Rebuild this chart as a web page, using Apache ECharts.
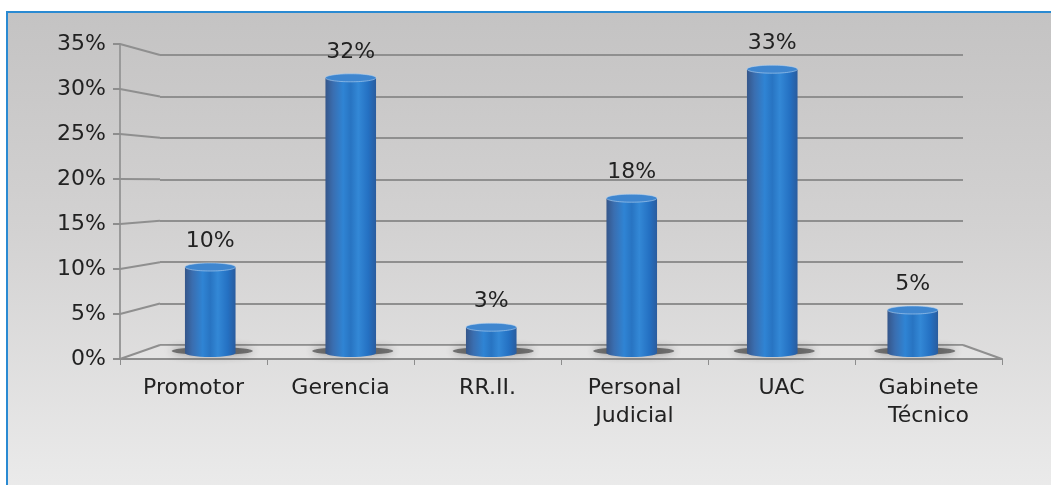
<!DOCTYPE html>
<html>
<head>
<meta charset="utf-8">
<script src="https://cdn.jsdelivr.net/npm/echarts@6/dist/echarts.min.js"></script>
<style>
  html, body { margin: 0; padding: 0; background: #fff; }
  .frame {
    position: absolute; left: 6px; top: 11px; width: 1060px; height: 490px;
    border-left: 2px solid #2a8ad2; border-top: 2px solid #2a8ad2;
    background: linear-gradient(to bottom, #c4c3c3 0%, #d3d2d2 45%, #ececec 100%);
  }
  #chart { position: absolute; left: 0; top: 0; width: 1051px; height: 485px; }
</style>
</head>
<body>
<div class="frame"></div>
<div id="chart"></div>
<script>
// datos
const categories = ['Promotor', 'Gerencia', 'RR.II.', 'Personal\nJudicial', 'UAC', 'Gabinete\nTécnico']
const values = [10, 32, 3, 18, 33, 5]

// perspectiva: frente / medio (barras) / fondo
const front = { left: 120, right: 49, top: 44, bottom: 126 }
const mid = { left: 140, right: 68, top: 52, bottom: 132 }
const back = { left: 160, right: 88, top: 55, bottom: 140 }
const W = 1051
const font = 'DejaVu Sans'

const chart = echarts.init(document.getElementById('chart'))

const yBase = { type: 'value', min: 0, max: 35, interval: 5 }

chart.setOption({
  backgroundColor: 'transparent',
  animation: false,
  grid: [front, mid, back],
  xAxis: [
    {
      type: 'category', gridIndex: 0, data: categories,
      axisLine: { show: true, lineStyle: { color: '#8d8d8d', width: 2 } },
      axisTick: { show: true, length: 6, lineStyle: { color: '#8d8d8d' } },
      axisLabel: { color: '#222', fontFamily: font, fontSize: 22, lineHeight: 28, margin: 15 }
    },
    { type: 'category', gridIndex: 1, data: categories, show: false },
    { type: 'category', gridIndex: 2, data: categories, show: false }
  ],
  yAxis: [
    Object.assign({}, yBase, {
      gridIndex: 0,
      axisLine: { show: true, lineStyle: { color: '#9a9a9a', width: 2 } },
      axisTick: { show: true, length: 7, lineStyle: { color: '#8d8d8d', width: 2 } },
      splitLine: { show: false },
      axisLabel: { color: '#222', fontFamily: font, fontSize: 22, margin: 14, formatter: '{value}%' }
    }),
    Object.assign({}, yBase, { gridIndex: 1, show: false, splitLine: { show: false } }),
    Object.assign({}, yBase, {
      gridIndex: 2,
      axisLine: { show: false }, axisTick: { show: false }, axisLabel: { show: false },
      splitLine: { show: true, lineStyle: { color: '#8f8f8f', width: 2 } }
    })
  ],
  series: [
    {
      type: 'custom',
      xAxisIndex: 1,
      yAxisIndex: 1,
      z: 10,
      data: values.map((v, i) => [i, v]),
      renderItem(params, api) {
        const top = api.coord([api.value(0), api.value(1)])
        const bottom = api.coord([api.value(0), 0])
        const w = api.size([1, 0])[0] * 0.36
        const cx = top[0]
        const x0 = cx - w / 2
        const ry = 4
        const body = new echarts.graphic.LinearGradient(0, 0, 1, 0, [
          { offset: 0, color: '#35568a' },
          { offset: 0.15, color: '#3a6eb0' },
          { offset: 0.35, color: '#2f84d4' },
          { offset: 0.5, color: '#2874c2' },
          { offset: 0.65, color: '#3388d6' },
          { offset: 0.85, color: '#2470c2' },
          { offset: 1, color: '#2a5c9e' }
        ])
        return {
          type: 'group',
          children: [
            {
              type: 'ellipse',
              shape: { cx: cx + 2, cy: bottom[1] - 2, rx: w * 0.8, ry: 4 },
              style: {
                fill: 'rgba(50,50,50,0.6)',
                shadowBlur: 9,
                shadowColor: 'rgba(40,40,40,0.8)'
              }
            },
            {
              type: 'rect',
              shape: { x: x0, y: top[1], width: w, height: bottom[1] - top[1] },
              style: { fill: body }
            },
            {
              type: 'ellipse',
              shape: { cx: cx, cy: bottom[1], rx: w / 2, ry: ry },
              style: { fill: body }
            },
            {
              type: 'ellipse',
              shape: { cx: cx, cy: top[1], rx: w / 2, ry: ry },
              style: { fill: '#3f86cf', stroke: 'rgba(180,210,240,0.6)', lineWidth: 1 }
            },
            {
              type: 'text',
              style: {
                text: api.value(1) + '%',
                x: cx, y: top[1] - 15,
                align: 'center', verticalAlign: 'bottom',
                fill: '#222', font: '22px "' + font + '"'
              }
            }
          ]
        }
      }
    }
  ]
})

// pared izquierda y suelo, a partir de las escalas de los ejes
const gray = { stroke: '#8f8f8f', lineWidth: 2 }
const elements = []
for (let v = 0; v <= 35; v += 5) {
  const yf = chart.convertToPixel({ yAxisIndex: 0 }, v)
  const yb = chart.convertToPixel({ yAxisIndex: 2 }, v)
  elements.push({ type: 'line', z: 1, shape: { x1: front.left, y1: yf, x2: back.left, y2: yb }, style: gray })
}
const yf0 = chart.convertToPixel({ yAxisIndex: 0 }, 0)
const yb0 = chart.convertToPixel({ yAxisIndex: 2 }, 0)
elements.push({
  type: 'polygon', z: 0,
  shape: { points: [[front.left, yf0], [W - front.right, yf0], [W - back.right, yb0], [back.left, yb0]] },
  style: { fill: 'rgba(255,255,255,0.15)' }
})
elements.push({ type: 'line', z: 1, shape: { x1: W - back.right, y1: yb0, x2: W - front.right, y2: yf0 }, style: gray })
chart.setOption({ graphic: { elements: elements } })
</script>
</body>
</html>
